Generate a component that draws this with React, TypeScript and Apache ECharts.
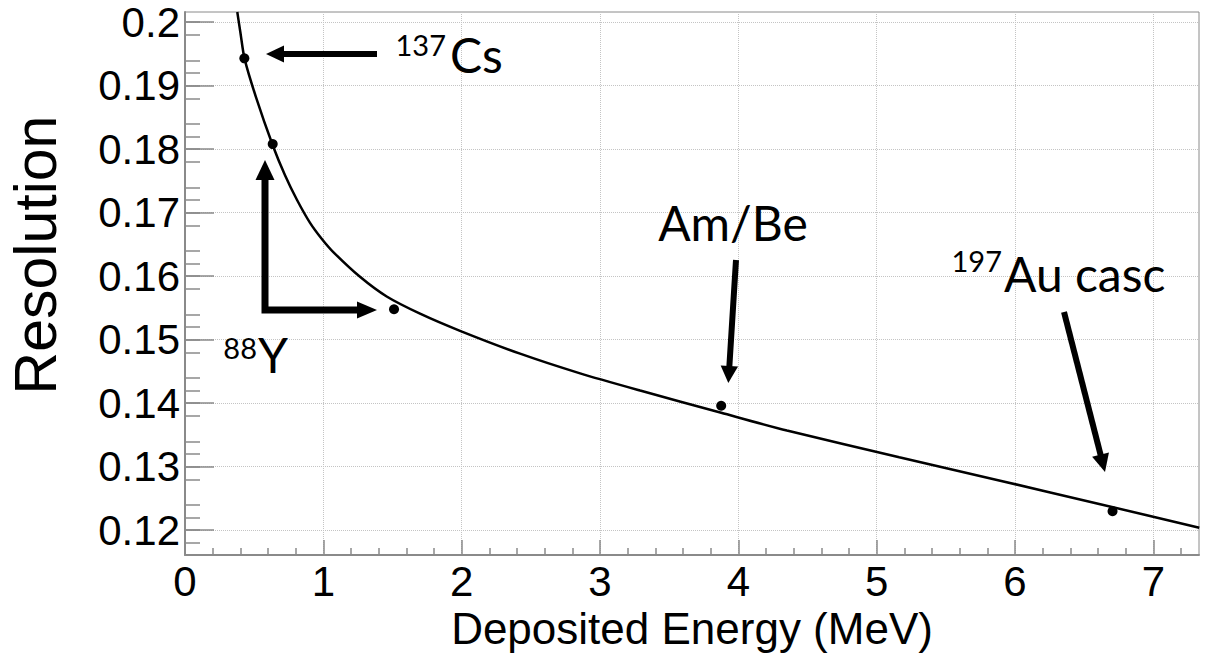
import React, { useEffect, useRef } from "react";
import * as echarts from "echarts";

// ---- data ----
const xTickValues = [0, 1, 2, 3, 4, 5, 6, 7];
const yTickValues = [0.12, 0.13, 0.14, 0.15, 0.16, 0.17, 0.18, 0.19, 0.2];

const pointEnergy = [0.429, 0.634, 1.511, 3.876, 6.705];
const pointResolution = [0.1943, 0.1808, 0.1548, 0.1396, 0.123];

const curveEnergy = [
  0.378, 0.401, 0.430, 0.513, 0.636, 0.723, 0.810, 0.904, 0.988, 1.072, 1.265, 1.458, 1.699,
  1.988, 2.422, 2.856, 3.290, 3.876, 4.351, 5.163, 5.893, 6.616, 7.332,
];
const curveResolution = [
  0.2016, 0.1983, 0.1943, 0.1882, 0.1805, 0.1759, 0.1720, 0.1684, 0.1659, 0.1638, 0.1599, 0.1568, 0.1541,
  0.1514, 0.1478, 0.1447, 0.1420, 0.1385, 0.1357, 0.1315, 0.1278, 0.1241, 0.1204,
];

const X_MIN = 0;
const X_MAX = 7.33;
const Y_MIN = 0.1161;
const Y_MAX = 0.2016;

function range(from: number, to: number, step: number, skipEvery: number) {
  const out: number[] = [];
  let i = 0;
  for (let v = from; v <= to + 1e-9; v += step, i++) {
    if (i % skipEvery !== 0) out.push(Math.round(v * 10000) / 10000);
  }
  return out;
}
const xMinorTicks = range(0, 7.3, 0.2, 5);
const yMinorTicks = range(0.116, 0.2016, 0.002, 5).filter((v) => v > Y_MIN);

const AXIS_GREY = "#8a8a8a";
const ANN_FONT = "Lato";
const ANN_SIZE = 48;
const SUP_SIZE = 29;

function arrow(x1: number, y1: number, x2: number, y2: number, headLen: number, headHalf: number, width: number) {
  const dx = x2 - x1;
  const dy = y2 - y1;
  const len = Math.sqrt(dx * dx + dy * dy);
  const ux = dx / len;
  const uy = dy / len;
  const bx = x2 - ux * headLen;
  const by = y2 - uy * headLen;
  const px = -uy * headHalf;
  const py = ux * headHalf;
  return [
    {
      type: "line",
      z: 100,
      shape: { x1, y1, x2: bx + ux * 2, y2: by + uy * 2 },
      style: { stroke: "#000", lineWidth: width },
    },
    {
      type: "polygon",
      z: 100,
      shape: { points: [[x2, y2], [bx + px, by + py], [bx - px, by - py]] },
      style: { fill: "#000" },
    },
  ];
}

function label(text: string, x: number, y: number, size: number, align: string) {
  return {
    type: "text",
    z: 100,
    x,
    y,
    style: {
      text,
      fill: "#000",
      fontFamily: ANN_FONT,
      fontSize: size,
      align,
      verticalAlign: "middle",
    },
  };
}

export default function App() {
  const ref = useRef<HTMLDivElement>(null);

  useEffect(() => {
    const chart = echarts.init(ref.current!, null, { renderer: "svg" });

    const tickLabelStyle = {
      color: "#000",
      fontFamily: "Liberation Sans, Arial, sans-serif",
      fontSize: 42,
    };

    const option: any = {
      animation: false,
      backgroundColor: "#fff",
      grid: {
        left: 185,
        top: 12,
        right: 11,
        bottom: 99,
        containLabel: false,
        outerBoundsMode: "none",
        show: true,
        borderColor: AXIS_GREY,
        borderWidth: 1,
        backgroundColor: "transparent",
      },
      xAxis: [
        {
          type: "value",
          min: X_MIN,
          max: X_MAX,
          position: "bottom",
          name: "Deposited Energy (MeV)",
          nameLocation: "middle",
          nameGap: 49,
          nameTextStyle: {
            color: "#000",
            fontFamily: "Liberation Sans, Arial, sans-serif",
            fontSize: 44,
          },
          axisLine: { show: true, onZero: false, lineStyle: { color: AXIS_GREY, width: 2 } },
          axisTick: {
            show: true,
            inside: true,
            length: 15,
            customValues: xTickValues,
            lineStyle: { color: AXIS_GREY, width: 1.5 },
          },
          axisLabel: {
            ...tickLabelStyle,
            margin: 5,
            customValues: xTickValues,
            formatter: (v: number) => String(v),
          },
          splitLine: {
            show: true,
            lineStyle: { color: "#c4c4c4", type: "dotted", width: 1 },
          },
        },
        {
          type: "value",
          min: X_MIN,
          max: X_MAX,
          position: "bottom",
          axisLine: { show: false },
          axisTick: {
            show: true,
            inside: true,
            length: 7,
            customValues: xMinorTicks,
            lineStyle: { color: AXIS_GREY, width: 1.5 },
          },
          axisLabel: { show: false },
          splitLine: { show: false },
        },
      ],
      yAxis: [
        {
          type: "value",
          min: Y_MIN,
          max: Y_MAX,
          position: "left",
          name: "Resolution",
          nameLocation: "middle",
          nameGap: 120,
          nameTextStyle: {
            color: "#000",
            fontFamily: "Liberation Sans, Arial, sans-serif",
            fontSize: 59,
            padding: [0, 0, 0, 57],
          },
          axisLine: { show: true, onZero: false, lineStyle: { color: AXIS_GREY, width: 2 } },
          axisTick: {
            show: true,
            inside: true,
            length: 29,
            customValues: yTickValues,
            lineStyle: { color: AXIS_GREY, width: 1.5 },
          },
          axisLabel: {
            ...tickLabelStyle,
            margin: 5,
            customValues: yTickValues,
            formatter: (v: number) => String(Math.round(v * 100) / 100),
          },
          splitLine: {
            show: true,
            lineStyle: { color: "#c4c4c4", type: "dotted", width: 1 },
          },
        },
        {
          type: "value",
          min: Y_MIN,
          max: Y_MAX,
          position: "left",
          axisLine: { show: false },
          axisTick: {
            show: true,
            inside: true,
            length: 15,
            customValues: yMinorTicks,
            lineStyle: { color: AXIS_GREY, width: 1.5 },
          },
          axisLabel: { show: false },
          splitLine: { show: false },
        },
      ],
      series: [
        {
          type: "line",
          name: "fit",
          xAxisIndex: 0,
          yAxisIndex: 0,
          data: curveEnergy.map((e, i) => [e, curveResolution[i]]),
          smooth: 0.25,
          showSymbol: false,
          clip: true,
          lineStyle: { color: "#000", width: 2.5 },
          z: 3,
        },
        {
          type: "scatter",
          name: "data",
          xAxisIndex: 0,
          yAxisIndex: 0,
          data: pointEnergy.map((e, i) => [e, pointResolution[i]]),
          symbol: "circle",
          symbolSize: 10,
          itemStyle: { color: "#000", opacity: 1 },
          z: 4,
        },
      ],
      graphic: [
        // 137Cs
        label("137", 446, 44, SUP_SIZE, "right"),
        label("Cs", 450, 54, ANN_SIZE, "left"),
        ...arrow(377, 54, 266, 54, 18, 8.5, 6),
        // 88Y (L-shaped double arrow)
        {
          type: "polyline",
          z: 100,
          shape: { points: [[265, 178], [265, 310], [359, 310]] },
          style: { stroke: "#000", lineWidth: 7, fill: null, lineJoin: "miter", lineCap: "butt" },
        },
        {
          type: "polygon",
          z: 100,
          shape: { points: [[265, 160], [255.5, 180], [274.5, 180]] },
          style: { fill: "#000" },
        },
        {
          type: "polygon",
          z: 100,
          shape: { points: [[377, 310], [357, 301.5], [357, 318.5]] },
          style: { fill: "#000" },
        },
        label("88", 257, 347, SUP_SIZE, "right"),
        label("Y", 258, 354, ANN_SIZE, "left"),
        // Am/Be
        label("Am/Be", 733, 222, ANN_SIZE, "center"),
        ...arrow(736, 260, 728.3, 383, 17, 8.7, 6),
        // 197Au casc
        label("197", 1002, 260, SUP_SIZE, "right"),
        label("Au casc", 1004, 273, ANN_SIZE, "left"),
        ...arrow(1064, 312, 1105, 472, 18, 8.7, 6),
      ],
    };

    chart.setOption(option);
    return () => chart.dispose();
  }, []);

  return (
    <div
      ref={ref}
      style={{ position: "fixed", left: 0, top: 0, width: 1210, height: 654, background: "#fff" }}
    />
  );
}
